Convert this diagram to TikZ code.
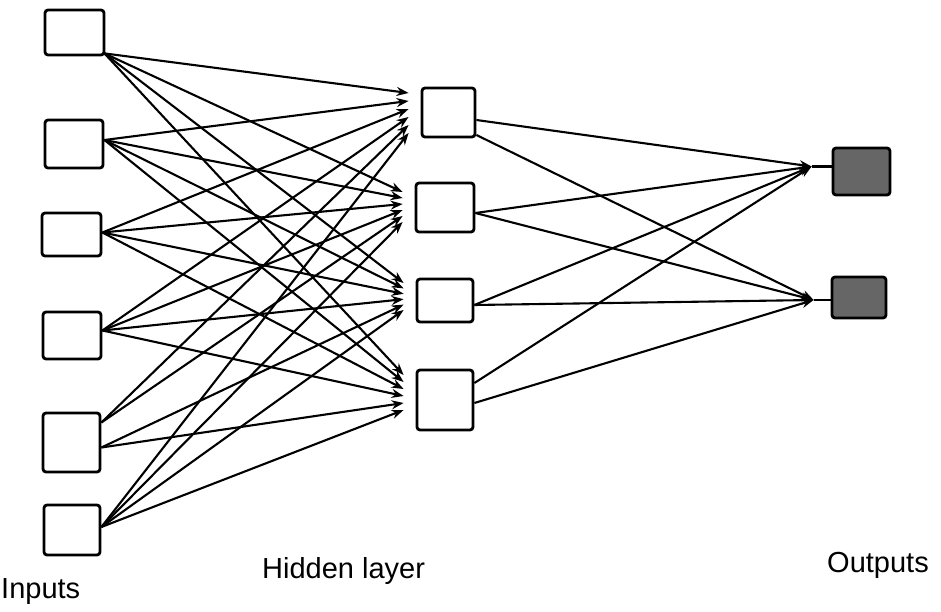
\documentclass[tikz,border=0pt]{standalone}
\usepackage{fontspec}
\setmainfont{Liberation Sans}
\usetikzlibrary{calc,arrows.meta}
\begin{document}
\begin{tikzpicture}[x=1pt,y=-1pt,
  unit/.style={draw=black,line width=2.8pt,rounded corners=3pt,fill=white,inner sep=0pt},
  outunit/.style={unit,fill=black!60},
  conn/.style={line width=2.1pt,-{Stealth[length=12pt,width=9pt]}},
  stub/.style={line width=2.4pt},
  lab/.style={font=\fontsize{29}{34}\selectfont,anchor=base west,inner sep=0pt}]
\useasboundingbox (0,0) rectangle (941,612);
% input units
\node[unit,minimum width=59pt,minimum height=45pt] (i1) at (74.5,32.5) {};
\node[unit,minimum width=58pt,minimum height=48pt] (i2) at (74,144) {};
\node[unit,minimum width=59pt,minimum height=43pt] (i3) at (71.5,234.5) {};
\node[unit,minimum width=58pt,minimum height=47pt] (i4) at (72,335.5) {};
\node[unit,minimum width=57pt,minimum height=59pt] (i5) at (71.5,442.5) {};
\node[unit,minimum width=56pt,minimum height=50pt] (i6) at (72,530) {};
% hidden units
\node[unit,minimum width=53pt,minimum height=49pt] (h1) at (448.5,112.5) {};
\node[unit,minimum width=58pt,minimum height=49pt] (h2) at (445,207.5) {};
\node[unit,minimum width=56pt,minimum height=43pt] (h3) at (445,300.5) {};
\node[unit,minimum width=56pt,minimum height=60pt] (h4) at (445,400) {};
% output units
\node[outunit,minimum width=57pt,minimum height=47pt] (o1) at (861.5,171.5) {};
\node[outunit,minimum width=54pt,minimum height=41pt] (o2) at (859,297.5) {};
% start points of input connections
\coordinate (s1) at ($(i1.south east)+(-1,-3)$);
\coordinate (s2) at ($(i2.east)+(0,-4)$);
\coordinate (s3) at ($(i3.east)+(0,-2)$);
\coordinate (s4) at ($(i4.east)+(0,-5)$);
\coordinate (s5a) at ($(i5.east)+(0,-20)$);
\coordinate (s5b) at ($(i5.east)+(0,5)$);
\coordinate (s6) at ($(i6.east)+(0,-3)$);
% input -> hidden
\foreach \j/\top/\stp in {1/-19.5/8, 2/-15.5/6, 3/-17.5/5.4, 4/-25/7}{
  \foreach \i/\s in {1/s1,2/s2,3/s3,4/s4,6/s6}{
    \pgfmathsetmacro{\dy}{\top+(\i-1)*\stp}
    \draw[conn] (\s) -- ($(h\j.west)+(-12,\dy)$);
  }
}
\foreach \j/\top/\stp in {1/-19.5/8, 2/-15.5/6}{
  \pgfmathsetmacro{\dy}{\top+4*\stp}
  \draw[conn] (s5a) -- ($(h\j.west)+(-12,\dy)$);
}
\foreach \j/\top/\stp in {3/-17.5/5.4, 4/-25/7}{
  \pgfmathsetmacro{\dy}{\top+4*\stp}
  \draw[conn] (s5b) -- ($(h\j.west)+(-12,\dy)$);
}
% arrival points at outputs
\coordinate (t1) at ($(o1.west)+(-20,-5)$);
\coordinate (t2) at ($(o2.west)+(-17,2.5)$);
\draw[stub] (t1) -- (t1 -| o1.west);
\draw[stub] (t2) -- (t2 -| o2.west);
% hidden -> output
\draw[conn] ($(h1.east)+(0,7.5)$) -- (t1);
\draw[conn] ($(h1.east)+(0,22.5)$) -- (t2);
\draw[conn] ($(h2.east)+(0,5.5)$) -- (t1);
\draw[conn] ($(h2.east)+(0,5.5)$) -- (t2);
\draw[conn] ($(h3.east)+(0,4.5)$) -- (t1);
\draw[conn] ($(h3.east)+(0,4.5)$) -- (t2);
\draw[conn] ($(h4.east)+(0,-17)$) -- (t1);
\draw[conn] ($(h4.east)+(0,3)$) -- (t2);
% labels
\node[lab] (linputs) at (1,598) {Inputs};
\node[lab] (lhidden) at (262,578) {Hidden layer};
\node[lab] (loutputs) at (827,572) {Outputs};
\end{tikzpicture}
\end{document}
